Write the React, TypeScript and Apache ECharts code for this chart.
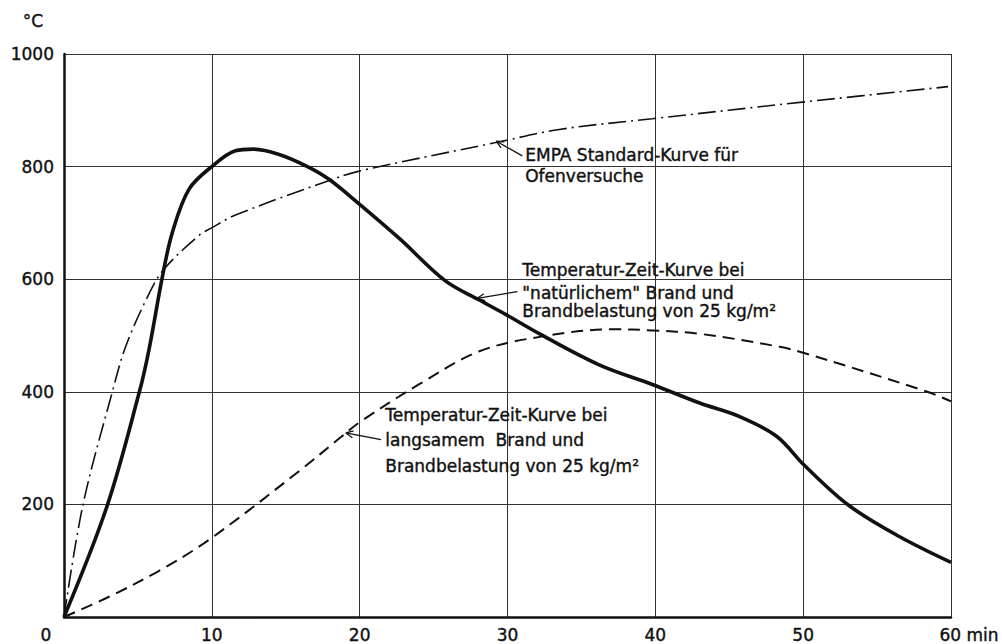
import React, { useEffect, useRef } from "react";
import * as echarts from "echarts";

// time axis (min) ticks and temperature ticks (°C)
const xTicks = [0, 10, 20, 30, 40, 50, 60];
const yTicks = [0, 200, 400, 600, 800, 1000];

// "natürlicher" Brand (solid, thick)
const naturalTime = [0, 2.9, 5.1, 5.75, 6.66, 7.33, 8.46, 10.04, 11.6, 12.8, 14.5, 16.4, 17.9, 20, 22.7, 25.8, 28.1, 29.9, 32.3, 36.2, 39.8, 43, 45.7, 48.2, 50.06, 53.1, 56.5, 60];
const naturalTemp = [0, 196, 400, 475, 605, 683, 760, 801, 828, 831, 822, 801, 778, 733, 672, 597, 563, 537, 501, 448, 413, 380, 356, 321, 270, 198, 143, 97];

// langsamer Brand (dashed)
const slowTime = [0, 3.05, 6.43, 9.8, 15.9, 18.8, 20, 24, 28.1, 32.3, 37.1, 39.8, 43, 48.4, 50.06, 58.3, 60];
const slowTemp = [0, 36, 82, 137, 259, 321, 346, 413, 472, 498, 511, 509, 503, 480, 469, 401, 383];

// EMPA Standard-Kurve (dash-dot)
const empaTime = [0, 1.29, 3.27, 4.18, 5.75, 6.77, 9.14, 10.04, 11.6, 17.9, 19.97, 29.45, 33.5, 39.8, 50.1, 59.8];
const empaTemp = [0, 200, 400, 481, 574, 618, 678, 692, 714, 775, 792, 844, 866, 885, 915, 942];

// annotation texts
const empaLabel = ["EMPA Standard-Kurve für", "Ofenversuche"];
const naturalLabel = ["Temperatur-Zeit-Kurve bei", "\"natürlichem\" Brand und", "Brandbelastung von 25 kg/m²"];
const slowLabel = ["Temperatur-Zeit-Kurve bei", "langsamem  Brand und", "Brandbelastung von 25 kg/m²"];

// annotation anchors in data coordinates: [curve point, leader end, text left/line centres]
const empaAnchor = { tip: [29.25, 845], end: [31.0, 819], textX: 31.2, lines: [820, 784] };
const naturalAnchor = { tip: [27.96, 566], end: [30.67, 578], textX: 31.0, lines: [617, 576, 544] };
const slowAnchor = { tip: [19.07, 327], end: [21.44, 315], textX: 21.73, lines: [359, 315, 269] };

const FONT = "DejaVu Sans";
const INK = "#111";

const zip = (a: number[], b: number[]) => a.map((v, i) => [v, b[i]]);

export default function App() {
  const ref = useRef<HTMLDivElement>(null);
  useEffect(() => {
    const chart = echarts.init(ref.current!, null, { renderer: "svg" });
    const labelStyle = { color: INK, fontFamily: FONT, fontSize: 17, textBorderColor: INK, textBorderWidth: 0.4 };
    const option: any = {
      animation: false,
      backgroundColor: "#fff",
      grid: { left: 64, right: 51, top: 54, bottom: 27, outerBoundsMode: "none" },
      xAxis: {
        type: "value",
        min: xTicks[0],
        max: xTicks[xTicks.length - 1],
        interval: 10,
        axisLine: { show: true, onZero: false, lineStyle: { color: INK, width: 2.5 } },
        axisTick: { show: false },
        splitLine: { show: true, lineStyle: { color: "#333", width: 1 } },
        axisLabel: {
          margin: 9,
          ...labelStyle,
          formatter: (v: number) => (v === 0 ? "{z|0}" : v === 60 ? "{e|60 min}" : String(v)),
          rich: {
            z: { padding: [0, 36, 0, 0], ...labelStyle },
            e: { padding: [0, 0, 0, 36], ...labelStyle },
          },
        },
      },
      yAxis: {
        type: "value",
        min: yTicks[0],
        max: yTicks[yTicks.length - 1],
        interval: 200,
        name: "°C",
        nameLocation: "end",
        nameGap: 33,
        nameTextStyle: { ...labelStyle, align: "right", verticalAlign: "middle", padding: [0, 21, 0, 0] },
        axisLine: { show: true, onZero: false, lineStyle: { color: INK, width: 2.5 } },
        axisTick: { show: false },
        splitLine: { show: true, lineStyle: { color: "#333", width: 1 } },
        axisLabel: {
          margin: 10,
          ...labelStyle,
          formatter: (v: number) => (v === 0 ? "" : String(v)),
        },
      },
      series: [
        {
          name: "EMPA Standard-Kurve",
          type: "line",
          data: zip(empaTime, empaTemp),
          showSymbol: false,
          smooth: 0.35,
          lineStyle: { color: INK, width: 1.6, type: [18, 5, 2, 5] },
          z: 3,
        },
        {
          name: "natürlicher Brand",
          type: "line",
          data: zip(naturalTime, naturalTemp),
          showSymbol: false,
          smooth: 0.35,
          lineStyle: { color: INK, width: 3.6 },
          z: 4,
        },
        {
          name: "langsamer Brand",
          type: "line",
          data: zip(slowTime, slowTemp),
          showSymbol: false,
          smooth: 0.35,
          lineStyle: { color: INK, width: 2, type: [12, 7] },
          z: 3,
        },
      ],
    };
    chart.setOption(option);

    const toPx = (p: number[]) => chart.convertToPixel({ gridIndex: 0 }, p) as number[];
    const graphics: any[] = [];
    const addAnnotation = (a: any, texts: string[]) => {
      const tip = toPx(a.tip);
      const end = toPx(a.end);
      graphics.push({
        type: "line",
        shape: { x1: tip[0], y1: tip[1], x2: end[0], y2: end[1] },
        style: { stroke: INK, lineWidth: 1.3 },
        z: 10,
      });
      const ang = Math.atan2(end[1] - tip[1], end[0] - tip[0]);
      const len = 8;
      [0.45, -0.45].forEach((d) => {
        graphics.push({
          type: "line",
          shape: {
            x1: tip[0],
            y1: tip[1],
            x2: tip[0] + len * Math.cos(ang + d),
            y2: tip[1] + len * Math.sin(ang + d),
          },
          style: { stroke: INK, lineWidth: 1.3 },
          z: 10,
        });
      });
      texts.forEach((t, i) => {
        const p = toPx([a.textX, a.lines[i]]);
        graphics.push({
          type: "text",
          x: p[0],
          y: p[1],
          style: {
            text: t,
            fill: INK,
            stroke: INK,
            lineWidth: 0.4,
            font: `17px "${FONT}"`,
            align: "left",
            verticalAlign: "middle",
          },
          z: 10,
        });
      });
    };
    addAnnotation(empaAnchor, empaLabel);
    addAnnotation(naturalAnchor, naturalLabel);
    addAnnotation(slowAnchor, slowLabel);
    chart.setOption({ graphic: graphics });

    return () => chart.dispose();
  }, []);
  return <div ref={ref} style={{ position: "absolute", left: 0, top: 0, width: 1002, height: 644 }} />;
}
